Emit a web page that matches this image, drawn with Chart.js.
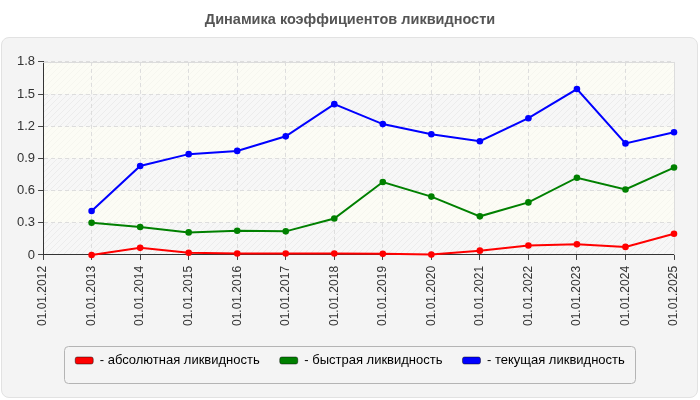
<!DOCTYPE html>
<html>
<head>
<meta charset="utf-8">
<script src="https://cdn.jsdelivr.net/npm/chart.js@4"></script>
<style>
html, body { margin: 0; padding: 0; background: #fff; }
#wrap { position: relative; width: 700px; height: 400px; }
#panel { position: absolute; left: 1px; top: 37px; width: 695px; height: 359px; background: #f4f4f4; border: 1px solid #e2e2e2; border-radius: 8px; }
#chart { position: absolute; left: 0; top: 0; }
</style>
</head>
<body>
<div id="wrap">
  <div id="panel"></div>
  <canvas id="chart" width="700" height="400"></canvas>
</div>
<script>
// dates of the balance sheet
const dates = ['01.01.2012', '01.01.2013', '01.01.2014', '01.01.2015', '01.01.2016', '01.01.2017', '01.01.2018',
    '01.01.2019', '01.01.2020', '01.01.2021', '01.01.2022', '01.01.2023', '01.01.2024', '01.01.2025'];

// liquidity ratios (no data for 2012)
const absLiquidity = [null, 0.00, 0.066, 0.02, 0.013, 0.013, 0.013, 0.01, 0.003, 0.04, 0.088, 0.10, 0.075, 0.197];
const quickLiquidity = [null, 0.30, 0.26, 0.21, 0.225, 0.22, 0.34, 0.68, 0.544, 0.36, 0.49, 0.72, 0.61, 0.815];
const currentLiquidity = [null, 0.41, 0.83, 0.94, 0.97, 1.106, 1.406, 1.22, 1.125, 1.06, 1.275, 1.547, 1.04, 1.144];

const seriesNames = ['- абсолютная ликвидность', '- быстрая ликвидность', '- текущая ликвидность'];
const seriesColors = ['#ff0000', '#008000', '#0000ff'];
const yTickLabels = ['0', '0.3', '0.6', '0.9', '1.2', '1.5', '1.8'];

Chart.defaults.font.family = "'Liberation Sans', Arial, sans-serif";
Chart.defaults.color = '#333';

// diagonal hatch used on every other band of the plot area
function makeHatch(bg, line) {
    const c = document.createElement('canvas');
    c.width = 6;
    c.height = 6;
    const g = c.getContext('2d');
    g.fillStyle = bg;
    g.fillRect(0, 0, 6, 6);
    g.strokeStyle = line;
    g.lineWidth = 1;
    g.beginPath();
    g.moveTo(0, 6); g.lineTo(6, 0);
    g.moveTo(-3, 3); g.lineTo(3, -3);
    g.moveTo(3, 9); g.lineTo(9, 3);
    g.stroke();
    return g.createPattern(c, 'repeat');
}

const plotBackground = {
    id: 'plotBackground',
    afterLayout(chart) {
        // centre legend and title on the page rather than on the padded area
        chart.legend.left += 6;
        chart.legend.right += 6;
        chart.titleBlock.left += 6;
        chart.titleBlock.right += 6;
    },
    beforeDraw(chart) {
        const ctx = chart.ctx;
        const area = chart.chartArea;
        const y = chart.scales.y;
        const gray = makeHatch('#f7f7f7', '#ececec');
        const ivory = makeHatch('#fcfcf5', '#f6f6ef');
        ctx.save();
        for (let i = 0; i < y.ticks.length - 1; i++) {
            const top = y.getPixelForValue(y.ticks[i + 1].value);
            const bottom = y.getPixelForValue(y.ticks[i].value);
            ctx.fillStyle = i % 2 === 0 ? gray : ivory;
            ctx.fillRect(area.left, top, area.right - area.left, bottom - top);
        }

        // frame round the legend
        const boxes = chart.legend.legendHitBoxes;
        if (boxes && boxes.length) {
            let l = Infinity, r = -Infinity, t = Infinity, b = -Infinity;
            boxes.forEach(h => {
                l = Math.min(l, h.left);
                r = Math.max(r, h.left + h.width);
                t = Math.min(t, h.top);
                b = Math.max(b, h.top + h.height);
            });
            ctx.beginPath();
            ctx.roundRect(Math.round(l) - 10.5, Math.round(t) - 7.5, Math.round(r - l) + 21, Math.round(b - t) + 24, 4);
            ctx.fillStyle = '#f4f4f4';
            ctx.fill();
            ctx.strokeStyle = '#b4b4b4';
            ctx.lineWidth = 1;
            ctx.stroke();
        }
        ctx.restore();
    },
    beforeDatasetsDraw(chart) {
        const ctx = chart.ctx;
        const area = chart.chartArea;
        ctx.save();
        ctx.strokeStyle = '#dcdcdc';
        ctx.lineWidth = 1;
        ctx.beginPath();
        ctx.moveTo(area.left, Math.round(area.top) + 0.5);
        ctx.lineTo(Math.round(area.right) + 0.5, Math.round(area.top) + 0.5);
        ctx.lineTo(Math.round(area.right) + 0.5, area.bottom);
        ctx.stroke();
        ctx.restore();
    }
};

const seriesData = [absLiquidity, quickLiquidity, currentLiquidity];

new Chart(document.getElementById('chart'), {
    type: 'line',
    data: {
        labels: dates,
        datasets: seriesData.map((values, i) => ({
            label: seriesNames[i],
            data: values,
            borderColor: seriesColors[i],
            backgroundColor: seriesColors[i],
            borderWidth: 2,
            pointRadius: 3.3,
            pointHoverRadius: 3.3,
            pointBorderWidth: 0,
            tension: 0,
            fill: false,
            clip: false
        }))
    },
    options: {
        responsive: false,
        animation: false,
        layout: {
            padding: { left: 14, right: 26, top: 0, bottom: 23 }
        },
        plugins: {
            title: {
                display: true,
                text: 'Динамика коэффициентов ликвидности',
                color: '#555',
                font: { size: 14.5, weight: 'bold' },
                padding: { top: 11, bottom: 33.5 }
            },
            legend: {
                position: 'bottom',
                labels: {
                    boxWidth: 18,
                    boxHeight: 7,
                    padding: 20,
                    color: '#333',
                    font: { size: 13 },
                    useBorderRadius: true,
                    borderRadius: 2,
                    generateLabels(chart) {
                        return chart.data.datasets.map((ds, i) => ({
                            text: ds.label,
                            fillStyle: ds.borderColor,
                            strokeStyle: 'rgba(0,0,0,0.45)',
                            lineWidth: 1,
                            borderRadius: 2,
                            datasetIndex: i
                        }));
                    }
                }
            },
            tooltip: { enabled: false }
        },
        scales: {
            x: {
                offset: false,
                grid: { color: '#dddddd', tickColor: '#444', tickLength: 5 },
                border: { color: '#333', width: 1, dash: [4, 3] },
                ticks: {
                    minRotation: 90,
                    maxRotation: 90,
                    autoSkip: false,
                    padding: 6,
                    font: { size: 12 },
                    color: '#333'
                },
                afterFit(scale) {
                    scale.height += 2;
                }
            },
            y: {
                min: 0,
                max: 1.8,
                grid: { color: '#dddddd', tickColor: '#444', tickLength: 5 },
                border: { color: '#333', width: 1, dash: [4, 3] },
                ticks: {
                    stepSize: 0.3,
                    padding: 3,
                    font: { size: 13 },
                    color: '#333',
                    callback: (value, index) => yTickLabels[index]
                }
            }
        }
    },
    plugins: [plotBackground]
});
</script>
</body>
</html>
